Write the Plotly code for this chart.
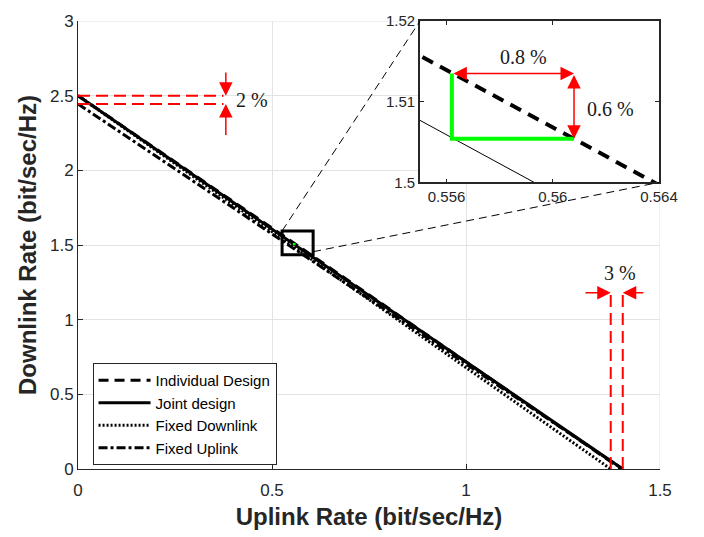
import plotly.graph_objects as go

# Achievable rate trade-off curves: uplink rate (x) vs downlink rate (y), bit/sec/Hz
individual_x = [0.0, 0.5562, 0.5608, 1.400]
individual_y = [2.500, 1.5135, 1.5054, 0.0]
joint_x = [0.0, 0.555, 0.5593, 1.404]
joint_y = [2.500, 1.5076, 1.500, 0.0]
fixed_dl_x = [0.0, 1.373]
fixed_dl_y = [2.500, 0.0]
fixed_ul_x = [0.0, 1.404]
fixed_ul_y = [2.445, 0.0]

series_names = ["Individual Design", "Joint design", "Fixed Downlink", "Fixed Uplink"]

x_ticks = [0, 0.5, 1, 1.5]
y_ticks = [0, 0.5, 1, 1.5, 2, 2.5, 3]
zoom_x_ticks = [0.556, 0.56, 0.564]
zoom_y_ticks = [1.5, 1.51, 1.52]

gap_labels = ["2 %", "3 %", "0.8 %", "0.6 %"]

# ranges
X_RANGE = [0, 1.5]
Y_RANGE = [0, 3]
ZX_RANGE = [0.555, 0.564]
ZY_RANGE = [1.5, 1.52]
ZOOM_BOX_X = [0.526, 0.606]
ZOOM_BOX_Y = [1.435, 1.594]
INSET_DOM_X = [0.5876, 0.9983]
INSET_DOM_Y = [0.6397, 1.0]

AX = "#262626"
RED = "#ff0000"
GREEN = "#00ff00"

fig = go.Figure()

styles = [
    dict(dash="10px,6px", width=3),
    dict(dash="solid", width=3),
    dict(dash="2px,2px", width=3),
    dict(dash="9px,3px,3px,3px", width=3),
]
data = [(individual_x, individual_y), (joint_x, joint_y),
        (fixed_dl_x, fixed_dl_y), (fixed_ul_x, fixed_ul_y)]
for name, (xs, ys), st in zip(series_names, data, styles):
    fig.add_trace(go.Scatter(x=xs, y=ys, mode="lines", name=name,
                             line=dict(color="black", **st)))

# green step between the two operating points on the individual-design curve
green_x = [individual_x[1], individual_x[1], individual_x[2]]
green_y = [individual_y[1], individual_y[2], individual_y[2]]
fig.add_trace(go.Scatter(x=green_x, y=green_y, mode="lines", showlegend=False,
                         line=dict(color=GREEN, width=2)))

# inset traces
fig.add_trace(go.Scatter(x=individual_x, y=individual_y, mode="lines", showlegend=False,
                         line=dict(color="black", width=4, dash="12px,8px"),
                         xaxis="x2", yaxis="y2"))
fig.add_trace(go.Scatter(x=joint_x, y=joint_y, mode="lines", showlegend=False,
                         line=dict(color="black", width=1),
                         xaxis="x2", yaxis="y2"))
fig.add_trace(go.Scatter(x=green_x, y=green_y, mode="lines", showlegend=False,
                         line=dict(color=GREEN, width=4),
                         xaxis="x2", yaxis="y2"))

shapes = []
# light frame along top and right edges
shapes.append(dict(type="line", xref="x", yref="y", x0=X_RANGE[0], x1=X_RANGE[1],
                   y0=Y_RANGE[1], y1=Y_RANGE[1], line=dict(color="#e3e3e3", width=1),
                   layer="below"))
shapes.append(dict(type="line", xref="x", yref="y", x0=X_RANGE[1], x1=X_RANGE[1],
                   y0=Y_RANGE[0], y1=Y_RANGE[1], line=dict(color="#e3e3e3", width=1),
                   layer="below"))

# 2 % gap at zero uplink rate
gap_end_x = 0.375
for yv in [joint_y[0], fixed_ul_y[0]]:
    shapes.append(dict(type="line", xref="x", yref="y", x0=0, x1=gap_end_x, y0=yv, y1=yv,
                       line=dict(color=RED, width=2, dash="12px,6px")))
# 3 % gap at zero downlink rate
gap_top_y = 1.18
for xv in [fixed_dl_x[-1], joint_x[-1]]:
    shapes.append(dict(type="line", xref="x", yref="y", x0=xv, x1=xv, y0=0, y1=gap_top_y,
                       line=dict(color=RED, width=2, dash="12px,6px")))

# zoom box and connectors
shapes.append(dict(type="rect", xref="x", yref="y", x0=ZOOM_BOX_X[0], x1=ZOOM_BOX_X[1],
                   y0=ZOOM_BOX_Y[0], y1=ZOOM_BOX_Y[1], line=dict(color="black", width=3)))
inset_tl = (INSET_DOM_X[0] * X_RANGE[1], INSET_DOM_Y[1] * Y_RANGE[1])
inset_br = (INSET_DOM_X[1] * X_RANGE[1], INSET_DOM_Y[0] * Y_RANGE[1])
shapes.append(dict(type="line", xref="x", yref="y", x0=ZOOM_BOX_X[0], y0=ZOOM_BOX_Y[1],
                   x1=inset_tl[0], y1=inset_tl[1],
                   line=dict(color="black", width=1, dash="8px,5px")))
shapes.append(dict(type="line", xref="x", yref="y", x0=ZOOM_BOX_X[1], y0=1.455,
                   x1=inset_br[0], y1=inset_br[1],
                   line=dict(color="black", width=1, dash="8px,5px")))

arrow = dict(showarrow=True, arrowhead=2, arrowsize=1.8, arrowwidth=1.5,
             arrowcolor=RED, text="", standoff=0, startstandoff=0)
annotations = []
# 2 % arrows
annotations.append(dict(xref="x", yref="y", axref="x", ayref="y",
                        x=0.381, y=joint_y[0], ax=0.381, ay=2.666, **arrow))
annotations.append(dict(xref="x", yref="y", axref="x", ayref="y",
                        x=0.381, y=fixed_ul_y[0], ax=0.381, ay=2.227, **arrow))
# 3 % arrows
annotations.append(dict(xref="x", yref="y", axref="x", ayref="y",
                        x=fixed_dl_x[-1], y=gap_top_y, ax=1.304, ay=gap_top_y, **arrow))
annotations.append(dict(xref="x", yref="y", axref="x", ayref="y",
                        x=joint_x[-1], y=gap_top_y, ax=1.461, ay=gap_top_y, **arrow))
# inset double arrows
annotations.append(dict(xref="x2", yref="y2", axref="x2", ayref="y2",
                        x=individual_x[2], y=individual_y[1], ax=individual_x[1], ay=individual_y[1],
                        arrowside="end+start", **arrow))
annotations.append(dict(xref="x2", yref="y2", axref="x2", ayref="y2",
                        x=individual_x[2], y=individual_y[2], ax=individual_x[2], ay=individual_y[1],
                        arrowside="end+start", **arrow))

serif = dict(family="Liberation Serif, Times New Roman, serif", size=20, color="#1a1a1a")
annotations.append(dict(xref="x", yref="y", x=0.449, y=2.468, text=gap_labels[0],
                        showarrow=False, font=serif))
annotations.append(dict(xref="x", yref="y", x=1.397, y=1.31, text=gap_labels[1],
                        showarrow=False, font=serif))
annotations.append(dict(xref="x2", yref="y2", x=0.5589, y=1.5155, text=gap_labels[2],
                        showarrow=False, font=serif))
annotations.append(dict(xref="x2", yref="y2", x=0.56216, y=1.5091, text=gap_labels[3],
                        showarrow=False, font=serif))

fig.update_layout(
    width=704, height=537,
    margin=dict(l=78, r=44, t=12, b=67),
    plot_bgcolor="white", paper_bgcolor="white",
    font=dict(family="Liberation Sans, Arial, sans-serif", color=AX),
    shapes=shapes, annotations=annotations,
    legend=dict(x=0.025, y=0.2365, xanchor="left", yanchor="top",
                bgcolor="white", bordercolor=AX, borderwidth=1, itemwidth=52,
                font=dict(size=15, color="black"), tracegroupgap=0),
    xaxis=dict(range=X_RANGE, tickvals=x_ticks, ticks="inside", ticklen=5,
               tickcolor=AX, showline=True, linecolor=AX, linewidth=1,
               showgrid=True, gridcolor="#e3e3e3", zeroline=False,
               tickfont=dict(size=17), ticklabelstandoff=6,
               title=dict(text="Uplink Rate (bit/sec/Hz)",
                          font=dict(size=24, weight="bold", color=AX), standoff=8)),
    yaxis=dict(range=Y_RANGE, tickvals=y_ticks, ticks="inside", ticklen=5,
               tickcolor=AX, showline=True, linecolor=AX, linewidth=1,
               showgrid=True, gridcolor="#e3e3e3", zeroline=False,
               tickfont=dict(size=17),
               title=dict(text="Downlink Rate (bit/sec/Hz)",
                          font=dict(size=24, weight="bold", color=AX), standoff=6)),
    xaxis2=dict(domain=INSET_DOM_X, anchor="y2", range=ZX_RANGE, tickvals=zoom_x_ticks,
                ticks="inside", ticklen=4, tickcolor=AX, showline=True, mirror="ticks",
                linecolor=AX, linewidth=1.5, showgrid=False, zeroline=False,
                tickfont=dict(size=15), ticklabelstandoff=0),
    yaxis2=dict(domain=INSET_DOM_Y, anchor="x2", range=ZY_RANGE, tickvals=zoom_y_ticks,
                ticks="inside", ticklen=4, tickcolor=AX, showline=True, mirror="ticks",
                linecolor=AX, linewidth=1.5, showgrid=False, zeroline=False,
                tickfont=dict(size=15)),
)

fig.write_html("out.html")
